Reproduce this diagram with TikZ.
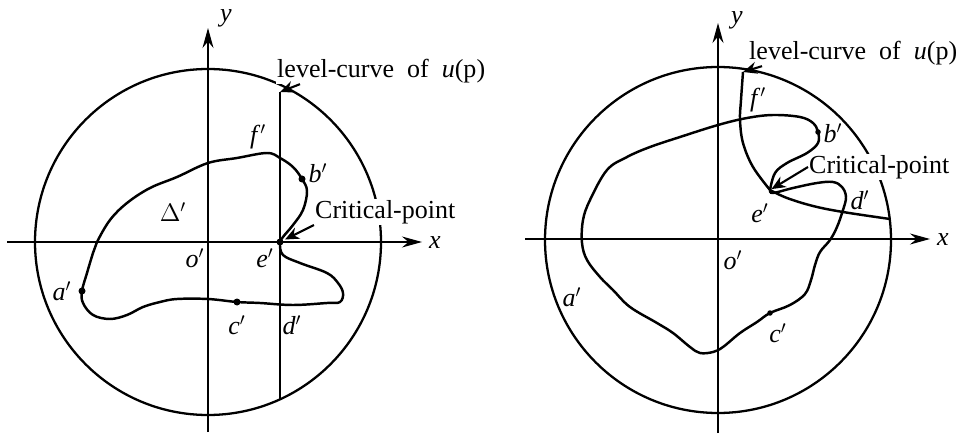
\documentclass[tikz,border=0pt]{standalone}
\usepackage{fontspec}
\setmainfont{Liberation Serif}
\usetikzlibrary{arrows.meta, calc}

\newcommand{\ptlbl}[1]{\textit{#1}$'$}

\begin{document}
\begin{tikzpicture}[
  x=0.02cm, y=-0.02cm,
  every node/.style={font=\fontsize{14.8}{17}\selectfont},
  axis/.style={line width=0.7pt, -{Stealth[length=4mm, width=2.2mm]}},
  boundary/.style={line width=1.3pt},
  contour/.style={line width=1.4pt},
  levelline/.style={line width=0.7pt},
  arrow/.style={-{Stealth[length=2.8mm, width=2.4mm]}, line width=1.2pt},
  dotmark/.style={circle, fill, inner sep=0pt, minimum size=1.4mm},
  lbl/.style={inner sep=0pt},
  note/.style={inner sep=0.5pt, fill=white, anchor=west},
]
\useasboundingbox (0,0) rectangle (962,435);

% === LEFT DIAGRAM ===
\draw[boundary] (208,242) circle[radius=173];

% Axes
\coordinate (lxs) at (7,242);
\coordinate (lxe) at (422,242);
\coordinate (lys) at (208,432);
\coordinate (lye) at (208,28);
\draw[axis] (lxs) -- (lxe);
\draw[axis] (lys) -- (lye);
\node[lbl] (lx) at (435,243) {\textit{x}};
\node[lbl] (ly) at (226,18) {\textit{y}};

% Level line through e'
\coordinate (ltop) at (280,92);
\coordinate (lbot) at (280,399);
\draw[levelline] (ltop) -- (lbot);

% Closed curve
\draw[contour] plot[smooth cycle, tension=0.6] coordinates {
  (208,163) (237,158) (267,153) (280,158) (293,167) (302,179) (307,191)
  (303,210) (293,225) (283,237) (280,243) (283,255) (300,263) (327,273)
  (338,283) (343,293) (340,302) (327,303) (293,305) (260,303) (237,302)
  (208,299) (177,299) (160,302) (143,307) (127,315) (110,319) (93,315)
  (83,303) (82,291) (87,273) (93,253) (97,242) (110,220) (127,203)
  (150,188) (177,177)};

% Points
\node[dotmark] (la) at (82,291) {};
\node[dotmark] (lb) at (302,179) {};
\node[dotmark] (lc) at (237,302) {};
\node[dotmark] (le) at (280,242) {};

% Labels
\node[lbl] (lalbl) at (62,291) {\ptlbl{a}};
\node[lbl] (lblbl) at (318,173) {\ptlbl{b}};
\node[lbl] (lclbl) at (237,325) {\ptlbl{c}};
\node[lbl] (ldlbl) at (292,325) {\ptlbl{d}};
\node[lbl] (lelbl) at (265,258) {\ptlbl{e}};
\node[lbl] (lflbl) at (258,137) {\ptlbl{f}};
\node[lbl] (lolbl) at (195,258) {\ptlbl{o}};
\node[lbl] (ldelta) at (173,212) {$\Delta'$};

% Notes with arrows
\node[note] (llevel) at (276,71) {level-curve\ \ of\ \ \textit{u}(p)};
\node[note] (lcrit) at (314,212) {Critical-point};
\draw[arrow] ([xshift=0.48cm]llevel.south west) -- (ltop);
\draw[arrow, shorten >=1pt] (lcrit.south west) -- (le);

% === RIGHT DIAGRAM ===
\draw[boundary] (718,240) circle[radius=173];

% Axes
\coordinate (rxs) at (525,239);
\coordinate (rxe) at (930,239);
\coordinate (rys) at (718,433);
\coordinate (rye) at (718,23);
\draw[axis] (rxs) -- (rxe);
\draw[axis] (rys) -- (rye);
\node[lbl] (rx) at (943,240) {\textit{x}};
\node[lbl] (ry) at (737,20) {\textit{y}};

% Level curve through e'
\coordinate (re) at (770,190);
\coordinate (rtop) at (743,72);
\coordinate (rend) at (890,219);
\draw[contour] plot[smooth, tension=0.6] coordinates {
  (rtop) (741,100) (740,120) (743,143) (753,167) (re)};
\draw[contour] plot[smooth, tension=0.6] coordinates {
  (re) (787,198) (813,206) (843,212) (rend)};

% Closed curve
\draw[contour] plot[smooth, tension=0.6] coordinates {
  (re) (773,193) (793,188) (817,183) (833,182) (842,187) (846,197)
  (843,210) (837,227) (830,240) (820,252) (815,265) (811,280) (805,294)
  (790,305) (770,313) (757,322) (740,333) (723,347) (713,352) (700,353)
  (690,347) (673,333) (657,323) (630,307) (613,290) (600,277) (587,260)
  (582,243) (583,220) (590,200) (607,170) (627,157) (650,147) (680,137)
  (718,125) (747,118) (773,115) (800,117) (813,123) (818,132) (818,143)
  (807,153) (787,163) (775,173) (re)};

% Points
\node[dotmark, minimum size=1.1mm] (rb) at (818,132) {};
\node[dotmark, minimum size=1.1mm] (rc) at (770,313) {};

% Labels
\node[lbl] (ralbl) at (572,297) {\ptlbl{a}};
\node[lbl] (rblbl) at (833,133) {\ptlbl{b}};
\node[lbl] (rclbl) at (778,333) {\ptlbl{c}};
\node[lbl] (rdlbl) at (860,200) {\ptlbl{d}};
\node[lbl] (relbl) at (760,213) {\ptlbl{e}};
\node[lbl] (rflbl) at (758,100) {\ptlbl{f}};
\node[lbl] (rolbl) at (733,260) {\ptlbl{o}};

% Notes with arrows
\node[note] (rlevel) at (748,53) {level-curve\ \ of\ \ \textit{u}(p)};
\node[note] (rcrit) at (808,167) {Critical-point};
\draw[arrow] ([xshift=0.28cm]rlevel.south west) -- (rtop);
\draw[arrow, shorten >=1pt] (rcrit.west) -- (re);

\end{tikzpicture}
\end{document}
